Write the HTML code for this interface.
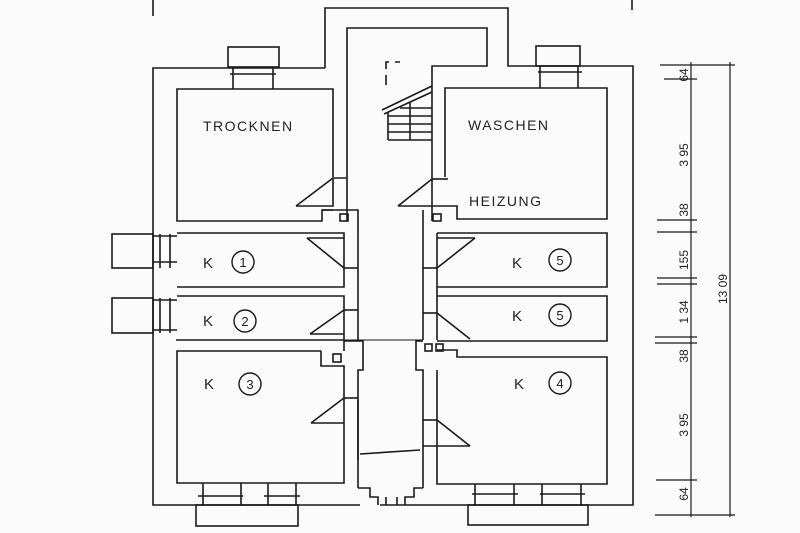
<!DOCTYPE html>
<html><head><meta charset="utf-8"><style>
html,body{margin:0;padding:0;background:#fbfbfb;}
svg{display:block}
text{font-family:"Liberation Sans",sans-serif;fill:#222}
</style></head><body>
<svg width="800" height="533" viewBox="0 0 800 533" xmlns="http://www.w3.org/2000/svg">
<rect width="800" height="533" fill="#fbfbfb"/>
<g fill="none" stroke="#1a1a1a" stroke-width="1.6">
<line x1="153" y1="0" x2="153" y2="16"/>
<line x1="632" y1="0" x2="632" y2="10"/>
<polyline points="325,68 153,68 153,505 360,505"/>
<polyline points="325,68 325,8 508,8 508,66 633,66 633,505 380,505"/>
<polyline points="347,221 347,28 487,28 487,66 432,66 432,221"/>
<polyline points="386,85 386,62 400,62" stroke-dasharray="10,6"/>
<line x1="382" y1="110" x2="432" y2="86"/>
<line x1="384" y1="114" x2="432" y2="92"/>
<line x1="388" y1="112" x2="388" y2="140"/>
<line x1="410" y1="102" x2="410" y2="140"/>
<line x1="388" y1="140" x2="432" y2="140"/>
<line x1="388" y1="132" x2="432" y2="132"/>
<line x1="388" y1="124" x2="432" y2="124"/>
<line x1="388" y1="116" x2="432" y2="116"/>
<line x1="400" y1="108" x2="432" y2="108"/>
<polyline points="333,177 333,89 177,89 177,221 322,221 322,210 333,210"/>
<rect x="228" y="47" width="51" height="20"/>
<line x1="233" y1="67" x2="233" y2="89"/><line x1="273" y1="67" x2="273" y2="89"/>
<line x1="230" y1="74" x2="276" y2="74"/>
<polyline points="296,206 333,206 333,178 347,178"/>
<line x1="296" y1="206" x2="333" y2="178"/>
<polyline points="322,210 358,210 358,233"/>
<rect x="340" y="214" width="8" height="7"/>
<polyline points="445,177 445,88 607,88 607,219 457,219 457,206 445,206"/>
<rect x="536" y="46" width="44" height="20"/>
<line x1="540" y1="66" x2="540" y2="88"/><line x1="578" y1="66" x2="578" y2="88"/>
<line x1="538" y1="72" x2="582" y2="72"/>
<polyline points="398,206 445,206"/>
<line x1="398" y1="206" x2="432" y2="179"/>
<line x1="432" y1="179" x2="448" y2="179"/>
<polyline points="423,210 423,340"/>
<rect x="433" y="214" width="8" height="7"/>
<polyline points="177,233 344,233 344,287 177,287"/>
<polyline points="307,238 344,238"/><line x1="307" y1="238" x2="344" y2="268"/>
<line x1="344" y1="268" x2="358" y2="268"/>
<rect x="112" y="234" width="41" height="34"/>
<line x1="153" y1="236" x2="177" y2="236"/><line x1="153" y1="262" x2="177" y2="262"/>
<line x1="160" y1="234" x2="160" y2="268"/><line x1="170" y1="234" x2="170" y2="268"/>
<polyline points="177,296 344,296 344,340 176,340"/>
<line x1="310" y1="334" x2="344" y2="310"/><line x1="310" y1="334" x2="344" y2="334"/>
<line x1="344" y1="310" x2="358" y2="310"/>
<rect x="112" y="298" width="41" height="35"/>
<line x1="153" y1="300" x2="177" y2="300"/><line x1="153" y1="330" x2="177" y2="330"/>
<line x1="160" y1="298" x2="160" y2="333"/><line x1="170" y1="298" x2="170" y2="333"/>
<line x1="358" y1="233" x2="358" y2="340"/>
<line x1="344" y1="340" x2="423" y2="340" stroke-width="1"/>
<polyline points="321,351 177,351 177,483 344,483 344,366 321,366 321,351"/>
<polyline points="344,351 344,341 363,341 363,370 358,370 358,460"/>
<rect x="333" y="354" width="8" height="8"/>
<line x1="311" y1="423" x2="344" y2="423"/><line x1="311" y1="423" x2="344" y2="398"/>
<line x1="344" y1="398" x2="358" y2="398"/>
<line x1="358" y1="400" x2="358" y2="488"/>
<rect x="196" y="505" width="102" height="21"/>
<line x1="203" y1="483" x2="203" y2="505"/><line x1="241" y1="483" x2="241" y2="505"/><line x1="268" y1="483" x2="268" y2="505"/><line x1="296" y1="483" x2="296" y2="505"/>
<line x1="198" y1="496" x2="243" y2="496"/><line x1="264" y1="496" x2="300" y2="496"/>
<polyline points="358,488 370,488 370,497 378,497 378,505"/>
<polyline points="423,488 414,488 414,497 405,497 405,505"/>
<line x1="360" y1="454" x2="420" y2="450"/>
<line x1="386" y1="497" x2="386" y2="505"/><line x1="397" y1="497" x2="397" y2="505"/>
<line x1="437" y1="233" x2="437" y2="340"/>
<polyline points="437,233 607,233 607,287 437,287"/>
<polyline points="437,296 607,296 607,341 437,341"/>
<polyline points="437,238 475,238"/><line x1="475" y1="238" x2="437" y2="268"/>
<line x1="423" y1="268" x2="437" y2="268"/>
<line x1="423" y1="313" x2="437" y2="313"/><line x1="437" y1="313" x2="470" y2="339"/>
<polyline points="423,341 416,341 416,370 423,370 423,488"/>
<rect x="425" y="344" width="7" height="7"/><rect x="436" y="344" width="7" height="7"/>
<polyline points="437,350 457,350 457,357 607,357 607,484 437,484 437,370"/>
<line x1="423" y1="420" x2="437" y2="420"/><line x1="437" y1="420" x2="470" y2="446"/>
<line x1="423" y1="446" x2="470" y2="446"/>
<rect x="468" y="505" width="120" height="20"/>
<line x1="475" y1="484" x2="475" y2="505"/><line x1="514" y1="484" x2="514" y2="505"/><line x1="542" y1="484" x2="542" y2="505"/><line x1="581" y1="484" x2="581" y2="505"/>
<line x1="472" y1="494" x2="518" y2="494"/><line x1="540" y1="494" x2="585" y2="494"/>
<line x1="691" y1="62" x2="691" y2="517" stroke-width="1.2"/>
<line x1="730" y1="62" x2="730" y2="517" stroke-width="1.2"/>
<g stroke-width="1.2">
<line x1="660" y1="65" x2="735" y2="65"/>
<line x1="664" y1="79" x2="697" y2="79"/>
<line x1="657" y1="232" x2="697" y2="232"/><line x1="657" y1="220" x2="697" y2="220"/>
<line x1="657" y1="278" x2="697" y2="278"/><line x1="657" y1="284" x2="697" y2="284"/>
<line x1="655" y1="337" x2="697" y2="337"/><line x1="655" y1="343" x2="697" y2="343"/>
<line x1="656" y1="480" x2="697" y2="480"/>
<line x1="655" y1="515" x2="735" y2="515"/>
</g>
</g>
<g font-size="14" letter-spacing="1.5">
<text x="203" y="131">TROCKNEN</text>
<text x="468" y="130">WASCHEN</text>
<text x="469" y="206">HEIZUNG</text>
</g>
<g font-size="15">
<text x="203" y="268">K</text><text x="203" y="326">K</text><text x="204" y="389">K</text>
<text x="512" y="268">K</text><text x="512" y="321">K</text><text x="514" y="389">K</text>
</g>
<g fill="none" stroke="#1a1a1a" stroke-width="1.4">
<circle cx="243" cy="262" r="11"/><circle cx="245" cy="321" r="11"/><circle cx="250" cy="384" r="11"/>
<circle cx="560" cy="260" r="11"/><circle cx="560" cy="315" r="11"/><circle cx="560" cy="383" r="11"/>
</g>
<g font-size="13" text-anchor="middle">
<text x="243" y="267">1</text><text x="245" y="326">2</text><text x="250" y="389">3</text>
<text x="560" y="265">5</text><text x="560" y="320">5</text><text x="560" y="388">4</text>
</g>
<g font-size="12" text-anchor="middle">
<text transform="translate(688,75) rotate(-90)">64</text>
<text transform="translate(688,155) rotate(-90)">3 95</text>
<text transform="translate(688,210) rotate(-90)">38</text>
<text transform="translate(688,260) rotate(-90)">155</text>
<text transform="translate(688,312) rotate(-90)">1 34</text>
<text transform="translate(688,356) rotate(-90)">38</text>
<text transform="translate(688,425) rotate(-90)">3 95</text>
<text transform="translate(688,494) rotate(-90)">64</text>
<text transform="translate(727,289) rotate(-90)">13 09</text>
</g>
</svg>
</body></html>
